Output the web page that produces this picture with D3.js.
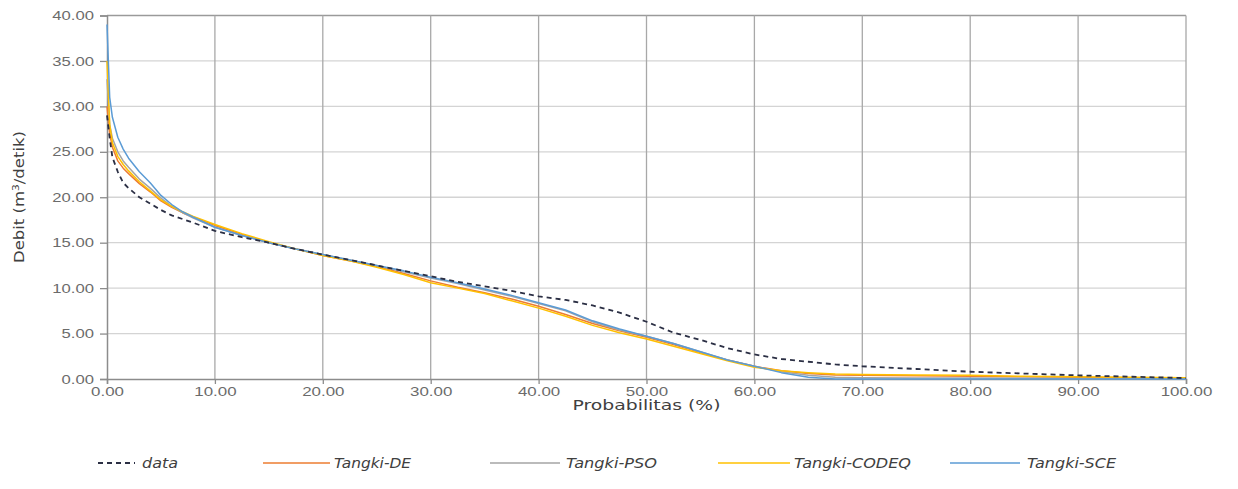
<!DOCTYPE html>
<html><head><meta charset="utf-8">
<script src="https://cdn.jsdelivr.net/npm/d3@7"></script>
<style>
html,body{margin:0;padding:0;background:#fff;}
svg{display:block;font-family:"DejaVu Sans",sans-serif;}
</style></head>
<body><svg id="c" width="1238" height="489"></svg>
<script>
// ---- data ----
const prob = [0,0.25,0.5,1,1.5,2,3,4,5,6,7,8,10,12.5,15,17.5,20,22.5,25,27.5,30,32.5,35,37.5,40,42.5,45,47.5,50,52.5,55,57.5,60,62.5,65,67.5,70,75,80,85,90,95,100];
const dataObs = [29,26.5,24.4,22.8,21.6,21.0,20.0,19.3,18.6,18.0,17.6,17.2,16.3,15.6,15.0,14.3,13.7,13.1,12.5,11.9,11.3,10.7,10.2,9.7,9.1,8.7,8.1,7.3,6.3,5.1,4.3,3.4,2.7,2.2,1.9,1.6,1.4,1.1,0.8,0.6,0.4,0.25,0.1];
const tangkiDE = [30,27,25.5,24,23.2,22.6,21.5,20.6,19.6,18.9,18.3,17.8,16.9,15.9,15.0,14.3,13.6,13.0,12.4,11.6,10.8,10.1,9.5,8.8,8.0,7.1,6.1,5.3,4.6,3.8,2.9,2.1,1.4,0.9,0.6,0.45,0.4,0.35,0.3,0.25,0.2,0.15,0.1];
const tangkiPSO = [33,28,26.5,25,24,23.3,22.0,21.0,19.9,19.0,18.3,17.7,16.7,15.8,15.0,14.3,13.7,13.1,12.5,11.8,11.1,10.5,9.8,9.1,8.3,7.5,6.3,5.4,4.7,3.9,3.0,2.1,1.4,0.8,0.4,0.2,0.15,0.1,0.1,0.08,0.06,0.05,0.05];
const tangkiCODEQ = [35,28,26,24.5,23.6,22.9,21.7,20.7,19.7,19.0,18.4,17.9,17.0,16.0,15.1,14.3,13.6,13.0,12.3,11.5,10.6,10.0,9.4,8.6,7.8,6.9,5.9,5.1,4.4,3.6,2.8,2.0,1.3,0.9,0.7,0.55,0.5,0.45,0.4,0.3,0.25,0.2,0.15];
const tangkiSCE = [39,31,28.8,26.6,25.3,24.3,22.8,21.6,20.2,19.2,18.4,17.8,16.7,15.8,15.0,14.3,13.7,13.1,12.5,11.9,11.2,10.6,9.9,9.2,8.4,7.6,6.4,5.5,4.7,3.9,3.0,2.1,1.4,0.7,0.2,0,0,0,0,0,0,0,0];
const seriesNames = ["data","Tangki-DE","Tangki-PSO","Tangki-CODEQ","Tangki-SCE"];
const xTicks = [0,10,20,30,40,50,60,70,80,90,100];
const yTicks = [0,5,10,15,20,25,30,35,40];

const colors = {"data":"#2b2f44","Tangki-DE":"#ED7D31","Tangki-PSO":"#A5A5A5","Tangki-CODEQ":"#FFC000","Tangki-SCE":"#5B9BD5"};
const seriesVals = [dataObs,tangkiDE,tangkiPSO,tangkiCODEQ,tangkiSCE];

const svg = d3.select("#c");
const L=107,R=1186,T=15.5,B=379;
const x = d3.scaleLinear().domain([0,100]).range([L,R]);
const y = d3.scaleLinear().domain([0,40]).range([B,T]);

function stretch(sel,f){ sel.each(function(){ const w=this.getComputedTextLength(); this.setAttribute("textLength",w*f); this.setAttribute("lengthAdjust","spacingAndGlyphs");}); }

// horizontal grid
svg.append("g").selectAll("line").data(yTicks.filter(d=>d>0)).join("line")
  .attr("x1",L).attr("x2",R).attr("y1",d=>y(d)).attr("y2",d=>y(d))
  .attr("stroke",d=>d===40?"#9a9a9a":"#d4d4d4").attr("stroke-width",1.3);
// vertical grid
svg.append("g").selectAll("line").data(xTicks.filter(d=>d>0)).join("line")
  .attr("x1",d=>x(d)).attr("x2",d=>x(d)).attr("y1",T).attr("y2",B)
  .attr("stroke","#a8a8a8").attr("stroke-width",1.3);

// axes
const yAxis = d3.axisLeft(y).tickValues(yTicks).tickFormat(d3.format(".2f")).tickSizeOuter(0).tickSize(7).tickPadding(6);
const gy = svg.append("g").attr("transform",`translate(${L},0)`).call(yAxis);
const xAxis = d3.axisBottom(x).tickValues(xTicks).tickFormat(d3.format(".2f")).tickSizeOuter(0).tickSize(5).tickPadding(3);
const gx = svg.append("g").attr("transform",`translate(0,${B})`).call(xAxis);
[gx,gy].forEach(g=>{
  g.select(".domain").attr("stroke","#8c8c8c").attr("stroke-width",1.5);
  g.selectAll(".tick line").attr("stroke","#8c8c8c").attr("stroke-width",1.3);
  g.selectAll("text").attr("fill","#6b6b6b").attr("font-size",13);
});
stretch(gy.selectAll("text"),1.28);
stretch(gx.selectAll("text"),1.3);

// lines
const line = d3.line().x((d,i)=>x(prob[i])).y(d=>y(d));
const order = [1,2,3,4,0];
order.forEach(k=>{
  const name=seriesNames[k];
  svg.append("path").datum(seriesVals[k]).attr("d",line)
    .attr("fill","none").attr("stroke",colors[name])
    .attr("stroke-width",name==="data"?1.8:1.5)
    .attr("stroke-dasharray",name==="data"?"5,4":null)
    .attr("stroke-linejoin","round");
});

// axis titles
const xt = svg.append("text").attr("x",(L+R)/2).attr("y",410).attr("text-anchor","middle")
  .attr("font-size",14).attr("fill","#404040").text("Probabilitas (%)");
xt.attr("textLength",148).attr("lengthAdjust","spacingAndGlyphs");
const yt = svg.append("text").attr("transform","translate(24,197) rotate(-90)").attr("text-anchor","middle")
  .attr("font-size",14).attr("fill","#404040").attr("textLength",132).attr("lengthAdjust","spacingAndGlyphs");
yt.append("tspan").text("Debit (m");
yt.append("tspan").attr("font-size",9).attr("dy",-5).text("3");
yt.append("tspan").attr("dy",5).text("/detik)");

// legend
const legX = [[98,135,142],[263,330,334],[490,560,566],[718,790,794],[950,1020,1027]];
const legW = [36,77,91,117,89];
const lg = svg.append("g");
seriesNames.forEach((name,i)=>{
  const [a,b,t]=legX[i];
  lg.append("line").attr("x1",a).attr("x2",b).attr("y1",463).attr("y2",463)
    .attr("stroke",colors[name]).attr("stroke-width",name==="data"?1.8:1.5)
    .attr("stroke-dasharray",name==="data"?"5,4":null);
  lg.append("text").attr("x",t).attr("y",468).attr("font-size",14).attr("font-style","italic")
    .attr("fill","#404040").text(name).attr("textLength",legW[i]).attr("lengthAdjust","spacingAndGlyphs");
});
</script></body></html>
